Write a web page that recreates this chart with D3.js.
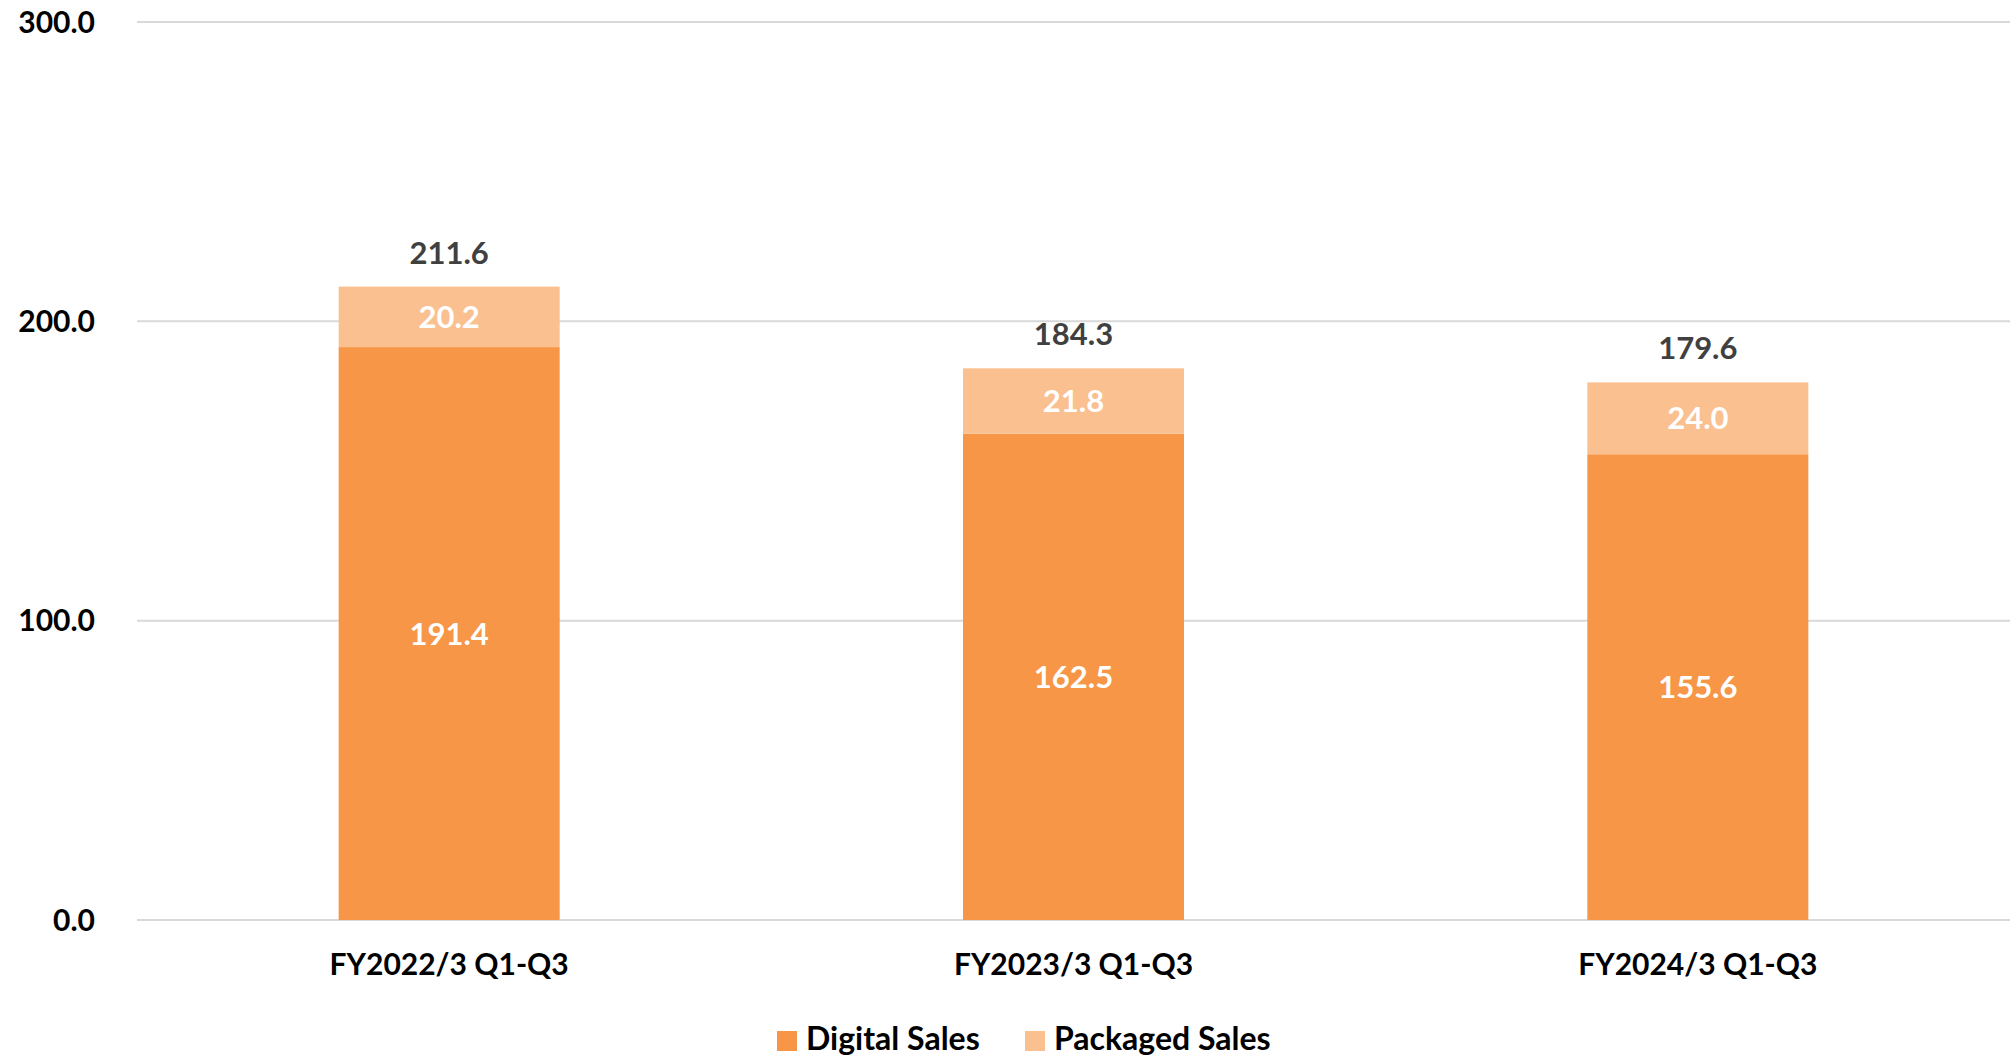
<!DOCTYPE html>
<html>
<head>
<meta charset="utf-8">
<script src="https://cdn.jsdelivr.net/npm/d3@7"></script>
<style>
  body { margin: 0; background: #fff; }
  text { font-family: Lato, "Noto Sans", sans-serif; font-weight: bold; }
</style>
</head>
<body>
<svg width="2013" height="1058"></svg>
<script>
var categories = ["FY2022/3 Q1-Q3", "FY2023/3 Q1-Q3", "FY2024/3 Q1-Q3"];
var digital = [191.4, 162.5, 155.6];
var packaged = [20.2, 21.8, 24.0];
var totals = [211.6, 184.3, 179.6];
var yTicks = [0, 100, 200, 300];
var seriesNames = ["Digital Sales", "Packaged Sales"];
var colors = ["#F79646", "#FAC090"];

var svg = d3.select("svg");

var x = d3.scaleBand()
    .domain(categories)
    .range([137, 2010])
    .paddingInner(0.646)
    .paddingOuter(0.323);

var y = d3.scaleLinear()
    .domain([0, 300])
    .range([920, 22]);

// gridlines
svg.append("g")
    .selectAll("line")
    .data(yTicks)
    .enter()
  .append("line")
    .attr("x1", 137)
    .attr("x2", 2010)
    .attr("y1", function(d) { return y(d); })
    .attr("y2", function(d) { return y(d); })
    .style("stroke", "#D9D9D9")
    .style("stroke-width", 2);

// y labels
svg.append("g")
    .selectAll("text")
    .data(yTicks)
    .enter()
  .append("text")
    .attr("x", 95)
    .attr("y", function(d) { return y(d); })
    .attr("dy", "0.36em")
    .attr("text-anchor", "end")
    .style("font-size", "30px")
    .style("fill", "#000")
    .text(function(d) { return d.toFixed(1); });

var rows = categories.map(function(c, i) {
    return { cat: c, digital: digital[i], packaged: packaged[i], total: totals[i] };
});

// digital bars
svg.append("g")
    .selectAll("rect")
    .data(rows)
    .enter()
  .append("rect")
    .attr("x", function(d) { return x(d.cat); })
    .attr("width", x.bandwidth())
    .attr("y", function(d) { return y(d.digital); })
    .attr("height", function(d) { return y(0) - y(d.digital); })
    .style("fill", colors[0]);

// packaged bars
svg.append("g")
    .selectAll("rect")
    .data(rows)
    .enter()
  .append("rect")
    .attr("x", function(d) { return x(d.cat); })
    .attr("width", x.bandwidth())
    .attr("y", function(d) { return y(d.digital + d.packaged); })
    .attr("height", function(d) { return y(d.digital) - y(d.digital + d.packaged); })
    .style("fill", colors[1]);

var cx = function(d) { return x(d.cat) + x.bandwidth() / 2; };

// labels inside bars
svg.append("g")
    .selectAll("text")
    .data(rows)
    .enter()
  .append("text")
    .attr("x", cx)
    .attr("y", function(d) { return (y(0) + y(d.digital)) / 2; })
    .attr("dy", "0.36em")
    .attr("text-anchor", "middle")
    .style("font-size", "31px")
    .style("fill", "#fff")
    .text(function(d) { return d.digital.toFixed(1); });

svg.append("g")
    .selectAll("text")
    .data(rows)
    .enter()
  .append("text")
    .attr("x", cx)
    .attr("y", function(d) { return (y(d.digital) + y(d.digital + d.packaged)) / 2; })
    .attr("dy", "0.36em")
    .attr("text-anchor", "middle")
    .style("font-size", "31px")
    .style("fill", "#fff")
    .text(function(d) { return d.packaged.toFixed(1); });

// totals
svg.append("g")
    .selectAll("text")
    .data(rows)
    .enter()
  .append("text")
    .attr("x", cx)
    .attr("y", function(d) { return y(d.digital + d.packaged) - 23; })
    .attr("text-anchor", "middle")
    .style("font-size", "31px")
    .style("fill", "#404040")
    .text(function(d) { return d.total.toFixed(1); });

// category labels
svg.append("g")
    .selectAll("text")
    .data(categories)
    .enter()
  .append("text")
    .attr("x", function(d) { return x(d) + x.bandwidth() / 2; })
    .attr("y", 975)
    .attr("text-anchor", "middle")
    .style("font-size", "30px")
    .style("fill", "#000")
    .text(function(d) { return d; });

// legend
var legendX = [777, 1025];
var lg = svg.append("g")
    .selectAll("g")
    .data(seriesNames)
    .enter()
  .append("g")
    .attr("transform", function(d, i) { return "translate(" + legendX[i] + ",1031)"; });

lg.append("rect")
    .attr("width", 20)
    .attr("height", 20)
    .style("fill", function(d, i) { return colors[i]; });

lg.append("text")
    .attr("x", 29)
    .attr("y", 19)
    .style("font-size", "32px")
    .style("fill", "#000")
    .text(function(d) { return d; });
</script>
</body>
</html>
